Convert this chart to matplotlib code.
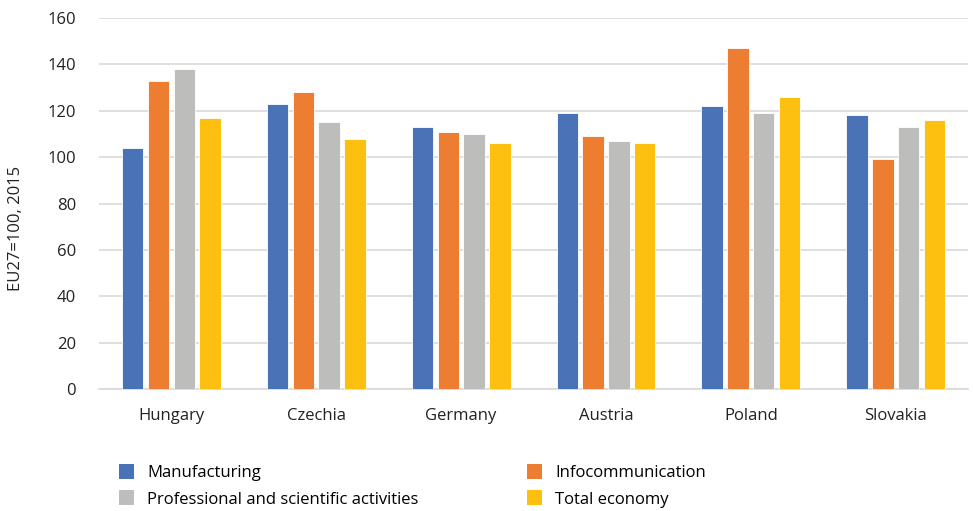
import matplotlib
matplotlib.use("Agg")
import matplotlib.pyplot as plt
import numpy as np
from matplotlib.patches import Patch

countries = ["Hungary", "Czechia", "Germany", "Austria", "Poland", "Slovakia"]
manufacturing = [104, 123, 113, 119, 122, 118]
infocommunication = [133, 128, 111, 109, 147, 99]
professional = [138, 115, 110, 107, 119, 113]
total_economy = [117, 108, 106, 106, 126, 116]
series_names = ["Manufacturing", "Infocommunication",
                "Professional and scientific activities", "Total economy"]
colors = ["#4A72B6", "#ED7D31", "#BDBDBB", "#FDC010"]
yticks = [0, 20, 40, 60, 80, 100, 120, 140, 160]

plt.rcParams['font.family'] = ['Open Sans', 'DejaVu Sans']

fig = plt.figure(figsize=(9.73, 5.11), dpi=100)
ax = fig.add_axes([0.1017, 0.2387, 0.8933, 0.7261])

x = np.arange(len(countries))
pitch = 0.178
width = 0.148
data = [manufacturing, infocommunication, professional, total_economy]
for i, (vals, c) in enumerate(zip(data, colors)):
    ax.bar(x + (i - 1.5) * pitch, vals, width, color=c, edgecolor="white",
           linewidth=0.6, zorder=3)

ax.set_xlim(-0.5, len(countries) - 0.5)
ax.set_ylim(0, 160)
ax.set_yticks(yticks)
ax.set_xticks(x)
ax.set_xticklabels(countries)
ax.tick_params(axis="both", length=0, labelsize=12, colors="#222222")
ax.tick_params(axis="x", pad=14)
ax.tick_params(axis="y", pad=16.5)
ax.grid(axis="y", color="#D9D9D9", linewidth=1.2, zorder=0)
for s in ["top", "right", "left"]:
    ax.spines[s].set_visible(False)
ax.spines["bottom"].set_color("#D9D9D9")
ax.spines["bottom"].set_linewidth(1.2)

fig.text(0.016, 1 - 228 / 511, "EU27=100, 2015", rotation=90, ha="center",
         va="center", fontsize=12, color="#222222")

order = [0, 2, 1, 3]
handles = [Patch(facecolor=colors[i], edgecolor="none") for i in order]
labels = [series_names[i] for i in order]
fig.legend(handles, labels, ncol=2, loc="upper left",
           bbox_to_anchor=(119 / 973, 1 - 464 / 511), frameon=False,
           fontsize=12, handlelength=0.9, handleheight=1.0, handletextpad=0.8,
           columnspacing=6.5, labelspacing=0.55, borderpad=0, borderaxespad=0)

fig.savefig("out.png", dpi=100)
